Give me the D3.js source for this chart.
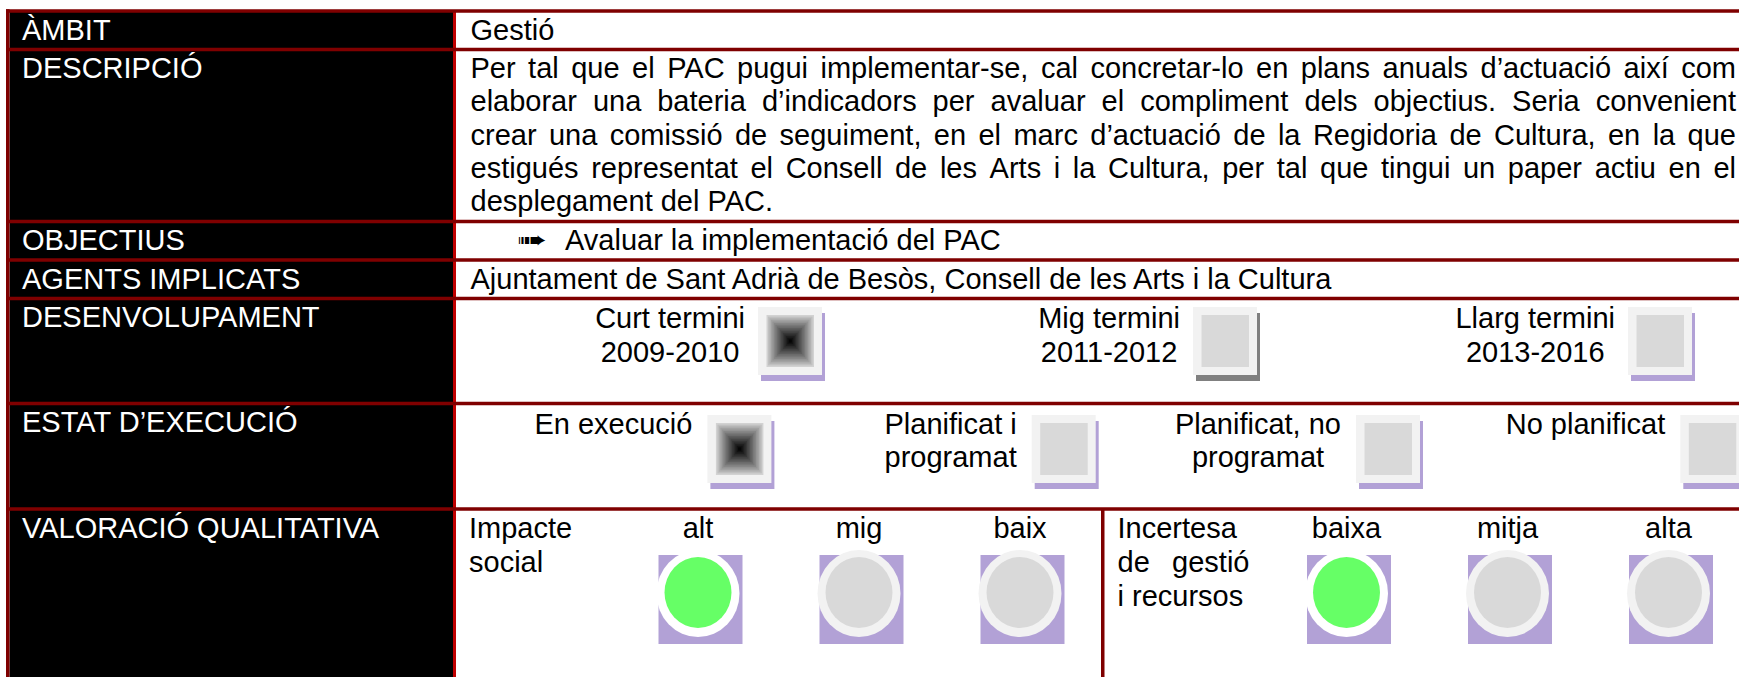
<!DOCTYPE html>
<html><head><meta charset="utf-8">
<script src="https://cdn.jsdelivr.net/npm/d3@7"></script>
<style>html,body{margin:0;padding:0;background:#fff;overflow:hidden}</style>
</head><body><svg id="c" width="1739" height="677"></svg>
<script>
// ---------- DATA ----------
const rowLabels = ["ÀMBIT","DESCRIPCIÓ","OBJECTIUS","AGENTS IMPLICATS","DESENVOLUPAMENT","ESTAT D’EXECUCIÓ","VALORACIÓ QUALITATIVA"];
const ambit = "Gestió";
const descripcioLines = [
  "Per tal que el PAC pugui implementar-se, cal concretar-lo en plans anuals d’actuació així com",
  "elaborar una bateria d’indicadors per avaluar el compliment dels objectius. Seria convenient",
  "crear una comissió de seguiment, en el marc d’actuació de la Regidoria de Cultura, en la que",
  "estigués representat el Consell de les Arts i la Cultura, per tal que tingui un paper actiu en el",
  "desplegament del PAC."
];
const objectius = ["Avaluar la implementació del PAC"];
const agents = "Ajuntament de Sant Adrià de Besòs, Consell de les Arts i la Cultura";
const terminiLabels = [["Curt termini","2009-2010"],["Mig termini","2011-2012"],["Llarg termini","2013-2016"]];
const terminiActiu = [1,0,0];
const estatLabels = [["En execució"],["Planificat i","programat"],["Planificat, no","programat"],["No planificat"]];
const estatActiu = [1,0,0,0];
const impacteTitle = ["Impacte","social"];
const impacteLevels = ["alt","mig","baix"];
const impacteActiu = [1,0,0];
const incertesaTitle = ["Incertesa","de gestió","i recursos"];
const incertesaLevels = ["baixa","mitja","alta"];
const incertesaActiu = [1,0,0];

// ---------- LAYOUT / STYLE ----------
const W = 1739, H = 677;
const FONT = "'Liberation Sans', Arial, Helvetica, sans-serif";
const FS = 29;
const darkRed = "#7f0000", red = "#c00000", purple = "#b2a1d6";
const lineY = [11, 49.5, 221.5, 260, 298.5, 403.5, 509]; // row separator centres
const lineW = 3.5;
const leftX0 = 9.5, leftX1 = 453, rightX = 470.5, rightEdge = 1736;
const lineH = 33.3;

const svg = d3.select("#c");
svg.append("rect").attr("width",W).attr("height",H).attr("fill","#fff");

svg.append("rect").attr("x",leftX0).attr("y",lineY[0]).attr("width",leftX1-leftX0).attr("height",H-lineY[0]).attr("fill","#000");
svg.append("rect").attr("x",6).attr("y",lineY[0]-1.75).attr("width",3.5).attr("height",H).attr("fill",darkRed);
svg.append("rect").attr("x",453).attr("y",lineY[0]).attr("width",3).attr("height",H).attr("fill",red);
const secL = 456, secR = 1104.5;
svg.append("rect").attr("x",1101).attr("y",lineY[6]).attr("width",3.5).attr("height",H-lineY[6]).attr("fill",darkRed);

const baseOf = i => lineY[i] + 28.5;

svg.append("g").selectAll("text").data(rowLabels).join("text")
  .attr("x",22).attr("y",(d,i)=>baseOf(i))
  .attr("fill","#fff").attr("font-family",FONT).attr("font-size",FS).text(d=>d);

const T = svg.append("g").attr("font-family",FONT).attr("font-size",FS).attr("fill","#000");

function textLine(x, y, str, justifyWidth){
  const t = T.append("text").attr("y",y);
  const words = str.split(" ");
  if(!justifyWidth || words.length < 2){ t.attr("x",x).text(str); return t; }
  const spans = words.map(w => t.append("tspan").text(w));
  const ws = spans.map(s => s.node().getComputedTextLength());
  const gap = (justifyWidth - d3.sum(ws)) / (words.length-1);
  let cx = x;
  spans.forEach((s,i)=>{ s.attr("x",cx); cx += ws[i] + gap; });
  return t;
}

textLine(rightX, baseOf(0), ambit);
descripcioLines.forEach((l,i)=> textLine(rightX, baseOf(1)+i*lineH, l, i<descripcioLines.length-1 ? rightEdge-rightX : 0));
objectius.forEach((o,i)=>{
  T.append("text").attr("x",0).attr("y",0)
    .attr("transform",`translate(517,${baseOf(2)-2+i*lineH}) scale(1.5,1)`)
    .attr("font-family","'DejaVu Sans'").attr("font-size",24).text("➠");
  textLine(565, baseOf(2)+i*lineH, o);
});
textLine(rightX, baseOf(3), agents);

const boxW = 64, boxH = 68;
function drawBox(x, y, active, shadow){
  svg.append("rect").attr("x",x+3).attr("y",y+6).attr("width",boxW).attr("height",boxH).attr("fill",shadow);
  svg.append("rect").attr("x",x).attr("y",y).attr("width",boxW).attr("height",boxH).attr("fill","#f2f2f2");
  const ix = x+8.5, iy = y+8, iw = boxW-16.5, ih = boxH-16;
  if(active){
    const N = 16, col = d3.interpolateRgb("#d2d2d2","#050505");
    for(let k=0;k<N;k++){
      const f = 1 - k/N;
      svg.append("rect").attr("x",ix+iw*(1-f)/2).attr("y",iy+ih*(1-f)/2)
        .attr("width",iw*f).attr("height",ih*f).attr("fill",col(Math.pow(k/(N-1),0.9)));
    }
  } else {
    svg.append("rect").attr("x",ix).attr("y",iy).attr("width",iw).attr("height",ih).attr("fill","#d9d9d9");
  }
}
function labelBlock(lines, rightX, y0, dy){
  const g = T.append("g");
  const ts = lines.map((l,i)=> g.append("text").attr("y",y0+i*dy).text(l));
  const ws = ts.map(t=>t.node().getComputedTextLength());
  const mw = d3.max(ws);
  const cx = rightX - mw/2;
  ts.forEach(t=>t.attr("x",cx).attr("text-anchor","middle"));
}

const xTerm = d3.scaleLinear().domain([0,terminiLabels.length-1]).range([758,1628]);
terminiLabels.forEach((lab,i)=>{
  const bx = xTerm(i);
  drawBox(bx, lineY[4]+8.5, terminiActiu[i]===1, i===1 ? "#808080" : purple);
  labelBlock(lab, bx-13, baseOf(4)+0.5, 34);
});
const xEstat = d3.scaleLinear().domain([0,estatLabels.length-1]).range([707.4,1680.3]);
estatLabels.forEach((lab,i)=>{
  const bx = xEstat(i);
  drawBox(bx, lineY[5]+11.5, estatActiu[i]===1, purple);
  labelBlock(lab, bx-15, baseOf(5)+1.5, 33.5);
});

const xLevel = d3.scaleLinear().domain([0,2]).range([242,564]);
function valSection(x0, title, levels, active){
  title.forEach((l,i)=> textLine(x0+13, baseOf(6)+i*34, l, i<title.length-1 ? 132 : 0));
  levels.forEach((lv,i)=>{
    const cx = x0 + xLevel(i), cy = 593.5;
    T.append("text").attr("x",cx).attr("y",baseOf(6)).attr("text-anchor","middle").text(lv);
    svg.append("rect").attr("x",cx-39.5).attr("y",cy-38.5).attr("width",84).attr("height",89).attr("fill",purple);
    svg.append("ellipse").attr("cx",cx).attr("cy",cy).attr("rx",41.5).attr("ry",43.5).attr("fill",active[i] ? "#ffffff" : "#f2f2f2");
    svg.append("ellipse").attr("cx",cx).attr("cy",cy-1).attr("rx",33.5).attr("ry",35.5).attr("fill",active[i] ? "#66ff66" : "#d9d9d9");
  });
}
valSection(secL, impacteTitle, impacteLevels, impacteActiu);
valSection(secR, incertesaTitle, incertesaLevels, incertesaActiu);

svg.append("g").selectAll("rect").data(lineY).join("rect")
  .attr("x",6).attr("y",d=>d-lineW/2).attr("width",W).attr("height",lineW).attr("fill",darkRed);
</script></body></html>
